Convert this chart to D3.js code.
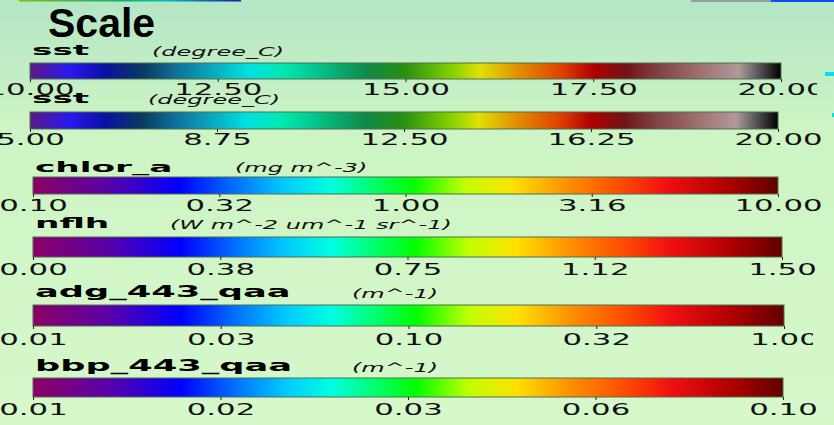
<!DOCTYPE html>
<html>
<head>
<meta charset="utf-8">
<script src="https://cdn.jsdelivr.net/npm/d3@7"></script>
<style>
  html, body { margin: 0; padding: 0; overflow: hidden; }
  svg { display: block; }
</style>
</head>
<body>
<div id="chart"></div>
<script>
// values
const title = 'Scale';
const varNames = ['sst', 'sst', 'chlor_a', 'nflh', 'adg_443_qaa', 'bbp_443_qaa'];
const varUnits = ['(degree_C)', '(degree_C)', '(mg m^-3)', '(W m^-2 um^-1 sr^-1)', '(m^-1)', '(m^-1)'];
const sstTicksA = ['10.00', '12.50', '15.00', '17.50', '20.00'];
const sstTicksB = ['5.00', '8.75', '12.50', '16.25', '20.00'];
const chlorTicks = ['0.10', '0.32', '1.00', '3.16', '10.00'];
const nflhTicks = ['0.00', '0.38', '0.75', '1.12', '1.50'];
const adgTicks = ['0.01', '0.03', '0.10', '0.32', '1.00'];
const bbpTicks = ['0.01', '0.02', '0.03', '0.06', '0.10'];
const tickLabels = [sstTicksA, sstTicksB, chlorTicks, nflhTicks, adgTicks, bbpTicks];
const paletteOf = ['sst', 'sst', 'rainbow', 'rainbow', 'rainbow', 'rainbow'];

// colour tables [offset, colour]
const sstStops = [
  [0, '#5a1a80'], [0.053, '#2a18f0'], [0.10, '#0a10a0'], [0.15, '#0a3a60'],
  [0.195, '#10709a'], [0.29, '#00e0e0'], [0.337, '#00e8b0'], [0.36, '#00d8a0'],
  [0.45, '#108848'], [0.50, '#2a9010'], [0.56, '#80d000'], [0.60, '#e0e000'],
  [0.65, '#e09000'], [0.708, '#e04000'], [0.75, '#b00000'], [0.795, '#701515'],
  [0.835, '#804040'], [0.895, '#a07272'], [0.944, '#b09a9a'], [0.967, '#606060'],
  [1, '#000000']
];
const rainbowStops = [
  [0, '#8c0064'], [0.10, '#5a00a8'], [0.197, '#0000ff'], [0.27, '#0070ff'],
  [0.335, '#00c8ff'], [0.40, '#00ffe0'], [0.51, '#00ff00'], [0.58, '#c0ff00'],
  [0.645, '#ffe000'], [0.716, '#ff9000'], [0.784, '#ff5000'], [0.85, '#f01010'],
  [0.93, '#b00000'], [1, '#600000']
];

// layout of each row (pixels)
const rows = [
  {nameX: 32, nameY: 55, nameSize: 14, unitX: 152, unitY: 56, x0: 30, x1: 781, y: 63, h: 16, labelY: 95, clip: 817},
  {nameX: 32, nameY: 103, nameSize: 14, unitX: 148, unitY: 104, x0: 30, x1: 778, y: 112, h: 17, labelY: 145},
  {nameX: 35, nameY: 172, nameSize: 14, unitX: 235, unitY: 172, x0: 33, x1: 778, y: 177, h: 17, labelY: 211},
  {nameX: 35, nameY: 228, nameSize: 14, unitX: 170, unitY: 229, x0: 33, x1: 782, y: 237, h: 20, labelY: 275},
  {nameX: 35, nameY: 297, nameSize: 16, unitX: 352, unitY: 298, x0: 33, x1: 784, y: 305, h: 21, labelY: 345, clip: 813},
  {nameX: 35, nameY: 371, nameSize: 16, unitX: 352, unitY: 372, x0: 33, x1: 783, y: 378, h: 19, labelY: 415}
];

const w = 834, h = 425;
const font = "'DejaVu Sans', sans-serif";

const svg = d3.select('#chart').append('svg')
  .attr('width', w)
  .attr('height', h);

const defs = svg.append('defs');

// background
const bg = defs.append('linearGradient').attr('id', 'bg')
  .attr('x1', 0).attr('y1', 0).attr('x2', 0).attr('y2', 1);
bg.append('stop').attr('offset', 0).attr('stop-color', '#b4e6c5');
bg.append('stop').attr('offset', 0.3).attr('stop-color', '#cdf4c4');
bg.append('stop').attr('offset', 1).attr('stop-color', '#d6f8ca');
svg.append('rect').attr('width', w).attr('height', h).attr('fill', 'url(#bg)');

function makeGradient(id, stops) {
  const g = defs.append('linearGradient').attr('id', id)
    .attr('x1', 0).attr('y1', 0).attr('x2', 1).attr('y2', 0);
  g.selectAll('stop').data(stops).enter().append('stop')
    .attr('offset', d => d[0])
    .attr('stop-color', d => d[1]);
}
makeGradient('sst', sstStops);
makeGradient('rainbow', rainbowStops);

// bits of other panels peeking in at the edges
const strip = defs.append('linearGradient').attr('id', 'strip');
strip.append('stop').attr('offset', 0).attr('stop-color', '#80c010');
strip.append('stop').attr('offset', 0.45).attr('stop-color', '#10b070');
strip.append('stop').attr('offset', 0.65).attr('stop-color', '#00c0c0');
strip.append('stop').attr('offset', 1).attr('stop-color', '#1020a0');
svg.append('rect').attr('x', 19).attr('y', 0).attr('width', 222).attr('height', 1.5).attr('fill', 'url(#strip)');
svg.append('rect').attr('x', 691).attr('y', 0).attr('width', 80).attr('height', 2).attr('fill', '#98a098');
svg.append('rect').attr('x', 771).attr('y', 0).attr('width', 63).attr('height', 2).attr('fill', '#0a50f0');
svg.append('rect').attr('x', 825).attr('y', 72).attr('width', 9).attr('height', 4).attr('fill', '#00e0f0');
svg.append('rect').attr('x', 832).attr('y', 113).attr('width', 2).attr('height', 4).attr('fill', '#00e0f0');

// title
svg.append('text')
  .attr('x', 48).attr('y', 37)
  .attr('font-family', "'Liberation Sans', Arial, sans-serif")
  .attr('font-weight', 'bold')
  .attr('font-size', 41)
  .attr('fill', '#000')
  .text(title);

function stretch(sel, k) {
  sel.each(function() {
    const len = this.getComputedTextLength();
    d3.select(this).attr('textLength', len * k).attr('lengthAdjust', 'spacingAndGlyphs');
  });
}

rows.forEach((r, i) => {
  const g = svg.append('g');

  // variable name
  g.append('text')
    .attr('x', r.nameX).attr('y', r.nameY)
    .attr('font-family', font)
    .attr('font-weight', 'bold')
    .attr('font-size', r.nameSize)
    .text(varNames[i])
    .call(stretch, r.nameSize > 14 ? 2.2 : 2.45);

  // units
  g.append('text')
    .attr('x', r.unitX).attr('y', r.unitY)
    .attr('font-family', font)
    .attr('font-style', 'italic')
    .attr('font-size', 12)
    .attr('fill', '#111')
    .text(varUnits[i])
    .call(stretch, 2.0);

  // colour bar
  g.append('rect')
    .attr('x', r.x0).attr('y', r.y)
    .attr('width', r.x1 - r.x0).attr('height', r.h)
    .attr('fill', 'url(#' + paletteOf[i] + ')')
    .attr('stroke', '#4f6f50')
    .attr('stroke-width', 1);

  // axis
  const x = d3.scalePoint()
    .domain(tickLabels[i])
    .range([r.x0, r.x1]);

  const ax = g.append('g')
    .attr('transform', 'translate(0,' + (r.y + r.h) + ')')
    .call(d3.axisBottom(x).tickSize(3).tickPadding(0));

  // some labels are cut at the right, as in the source panel
  if (r.clip) {
    defs.append('clipPath').attr('id', 'clip' + i)
      .append('rect').attr('x', -100).attr('y', -5)
      .attr('width', r.clip + 100).attr('height', 60);
    ax.attr('clip-path', 'url(#clip' + i + ')');
  }

  ax.select('.domain').remove();
  ax.selectAll('.tick line').attr('stroke', '#222');
  ax.selectAll('.tick text')
    .attr('y', r.labelY - r.y - r.h)
    .attr('dy', 0)
    .attr('font-family', font)
    .attr('font-size', 15)
    .attr('fill', '#111')
    .call(stretch, 2.05);
});
</script>
</body>
</html>
